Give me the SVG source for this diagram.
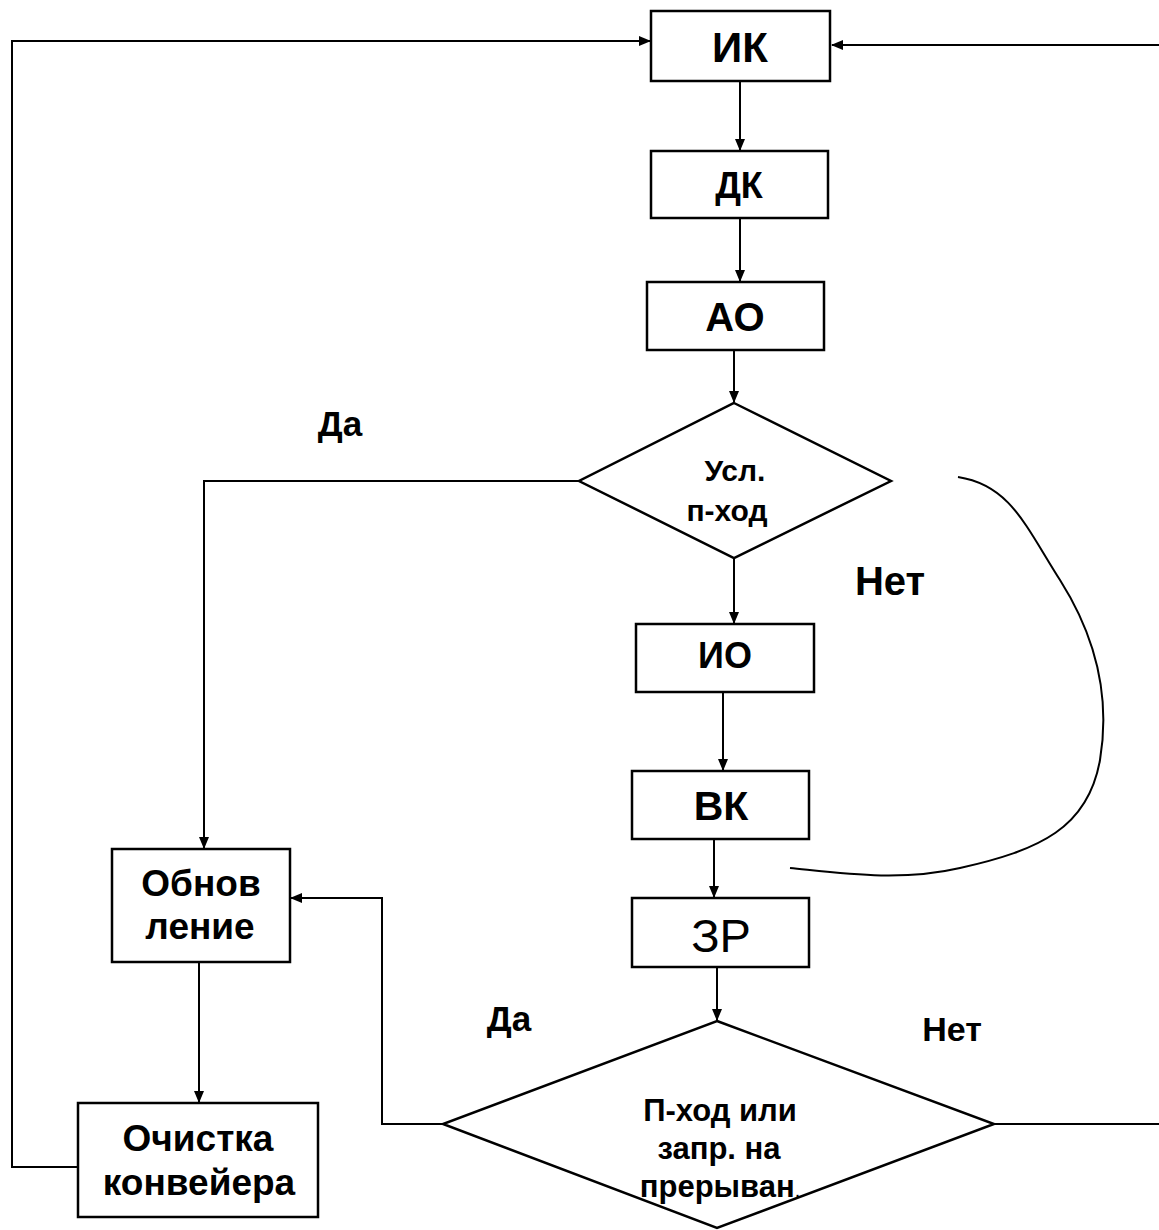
<svg xmlns="http://www.w3.org/2000/svg" width="1159" height="1230" viewBox="0 0 1159 1230">
<style>
.box{fill:#fff;stroke:#000;stroke-width:2.5}
.ln{fill:none;stroke:#000;stroke-width:2}
.t{font-family:"Liberation Sans",Arial,sans-serif;font-weight:bold;text-anchor:middle;fill:#000}
.n{font-weight:normal}
</style>
<defs>
<marker id="ah" markerWidth="12" markerHeight="10" refX="11" refY="5" orient="auto" markerUnits="userSpaceOnUse">
<path d="M0,0 L12,5 L0,10 Z" fill="#000"/>
</marker>
</defs>
<rect width="1159" height="1230" fill="#fff"/>
<g id="connectors">
<path class="ln" d="M740,82 V150" marker-end="url(#ah)"/>
<path class="ln" d="M740,218 V281" marker-end="url(#ah)"/>
<path class="ln" d="M734,350 V402" marker-end="url(#ah)"/>
<path class="ln" d="M734,558 V623" marker-end="url(#ah)"/>
<path class="ln" d="M723,692 V770" marker-end="url(#ah)"/>
<path class="ln" d="M714,836 V897" marker-end="url(#ah)"/>
<path class="ln" d="M717,967 V1020" marker-end="url(#ah)"/>
<path class="ln" d="M580,481 H204 V848" marker-end="url(#ah)"/>
<path class="ln" d="M199,962 V1102" marker-end="url(#ah)"/>
<path class="ln" d="M443,1124 H382 V898 H291" marker-end="url(#ah)"/>
<path class="ln" d="M78,1167 H12 V41 H650" marker-end="url(#ah)"/>
<path class="ln" d="M993,1124 H1162 M1162,45 H832" marker-end="url(#ah)"/>
<path class="ln" d="M958,477 C1010,485 1025,525 1060,580 C1098,640 1110,700 1100,760 C1088,828 1040,850 960,868 C900,882 840,873 790,868"/>
</g>
<g id="ik"><rect class="box" x="651" y="11" width="179" height="70"/><text class="t" x="740" y="62" font-size="42">ИК</text></g>
<g id="dk"><rect class="box" x="651" y="151" width="177" height="67"/><text class="t" x="739" y="198" font-size="36">ДК</text></g>
<g id="ao"><rect class="box" x="647" y="282" width="177" height="68"/><text class="t" x="735" y="331" font-size="40">АО</text></g>
<g id="cond1"><polygon class="box" points="734,403 891,481 734,558 579,481"/><text class="t" x="735" y="481" font-size="30">Усл.</text><text class="t" x="727" y="521" font-size="30">п-ход</text></g>
<g id="io"><rect class="box" x="636" y="624" width="178" height="68"/><text class="t" x="725" y="668" font-size="36">ИО</text></g>
<g id="vk"><rect class="box" x="632" y="771" width="177" height="68"/><text class="t" x="721" y="820" font-size="41">ВК</text></g>
<g id="zr"><rect class="box" x="632" y="898" width="177" height="69"/><text class="t n" x="721" y="952" font-size="47">ЗР</text></g>
<g id="cond2"><polygon class="box" points="717,1021 994,1124 717,1228 443,1124"/><text class="t" x="720" y="1121" font-size="31">П-ход или</text><text class="t" x="719" y="1159" font-size="31">запр. на</text><text class="t" x="720" y="1197" font-size="31">прерыван<tspan class="n" font-size="20">.</tspan></text></g>
<g id="obn"><rect class="box" x="112" y="849" width="178" height="113"/><text class="t" x="201" y="896" font-size="37">Обнов</text><text class="t" x="200" y="939" font-size="37">ление</text></g>
<g id="och"><rect class="box" x="78" y="1103" width="240" height="114"/><text class="t" x="198" y="1151" font-size="37">Очистка</text><text class="t" x="199" y="1195" font-size="37">конвейера</text></g>
<g id="labels">
<text class="t" x="340" y="436" font-size="35">Да</text>
<text class="t" x="890" y="595" font-size="40">Нет</text>
<text class="t" x="509" y="1031" font-size="35">Да</text>
<text class="t" x="952" y="1041" font-size="34">Нет</text>
</g>
</svg>
